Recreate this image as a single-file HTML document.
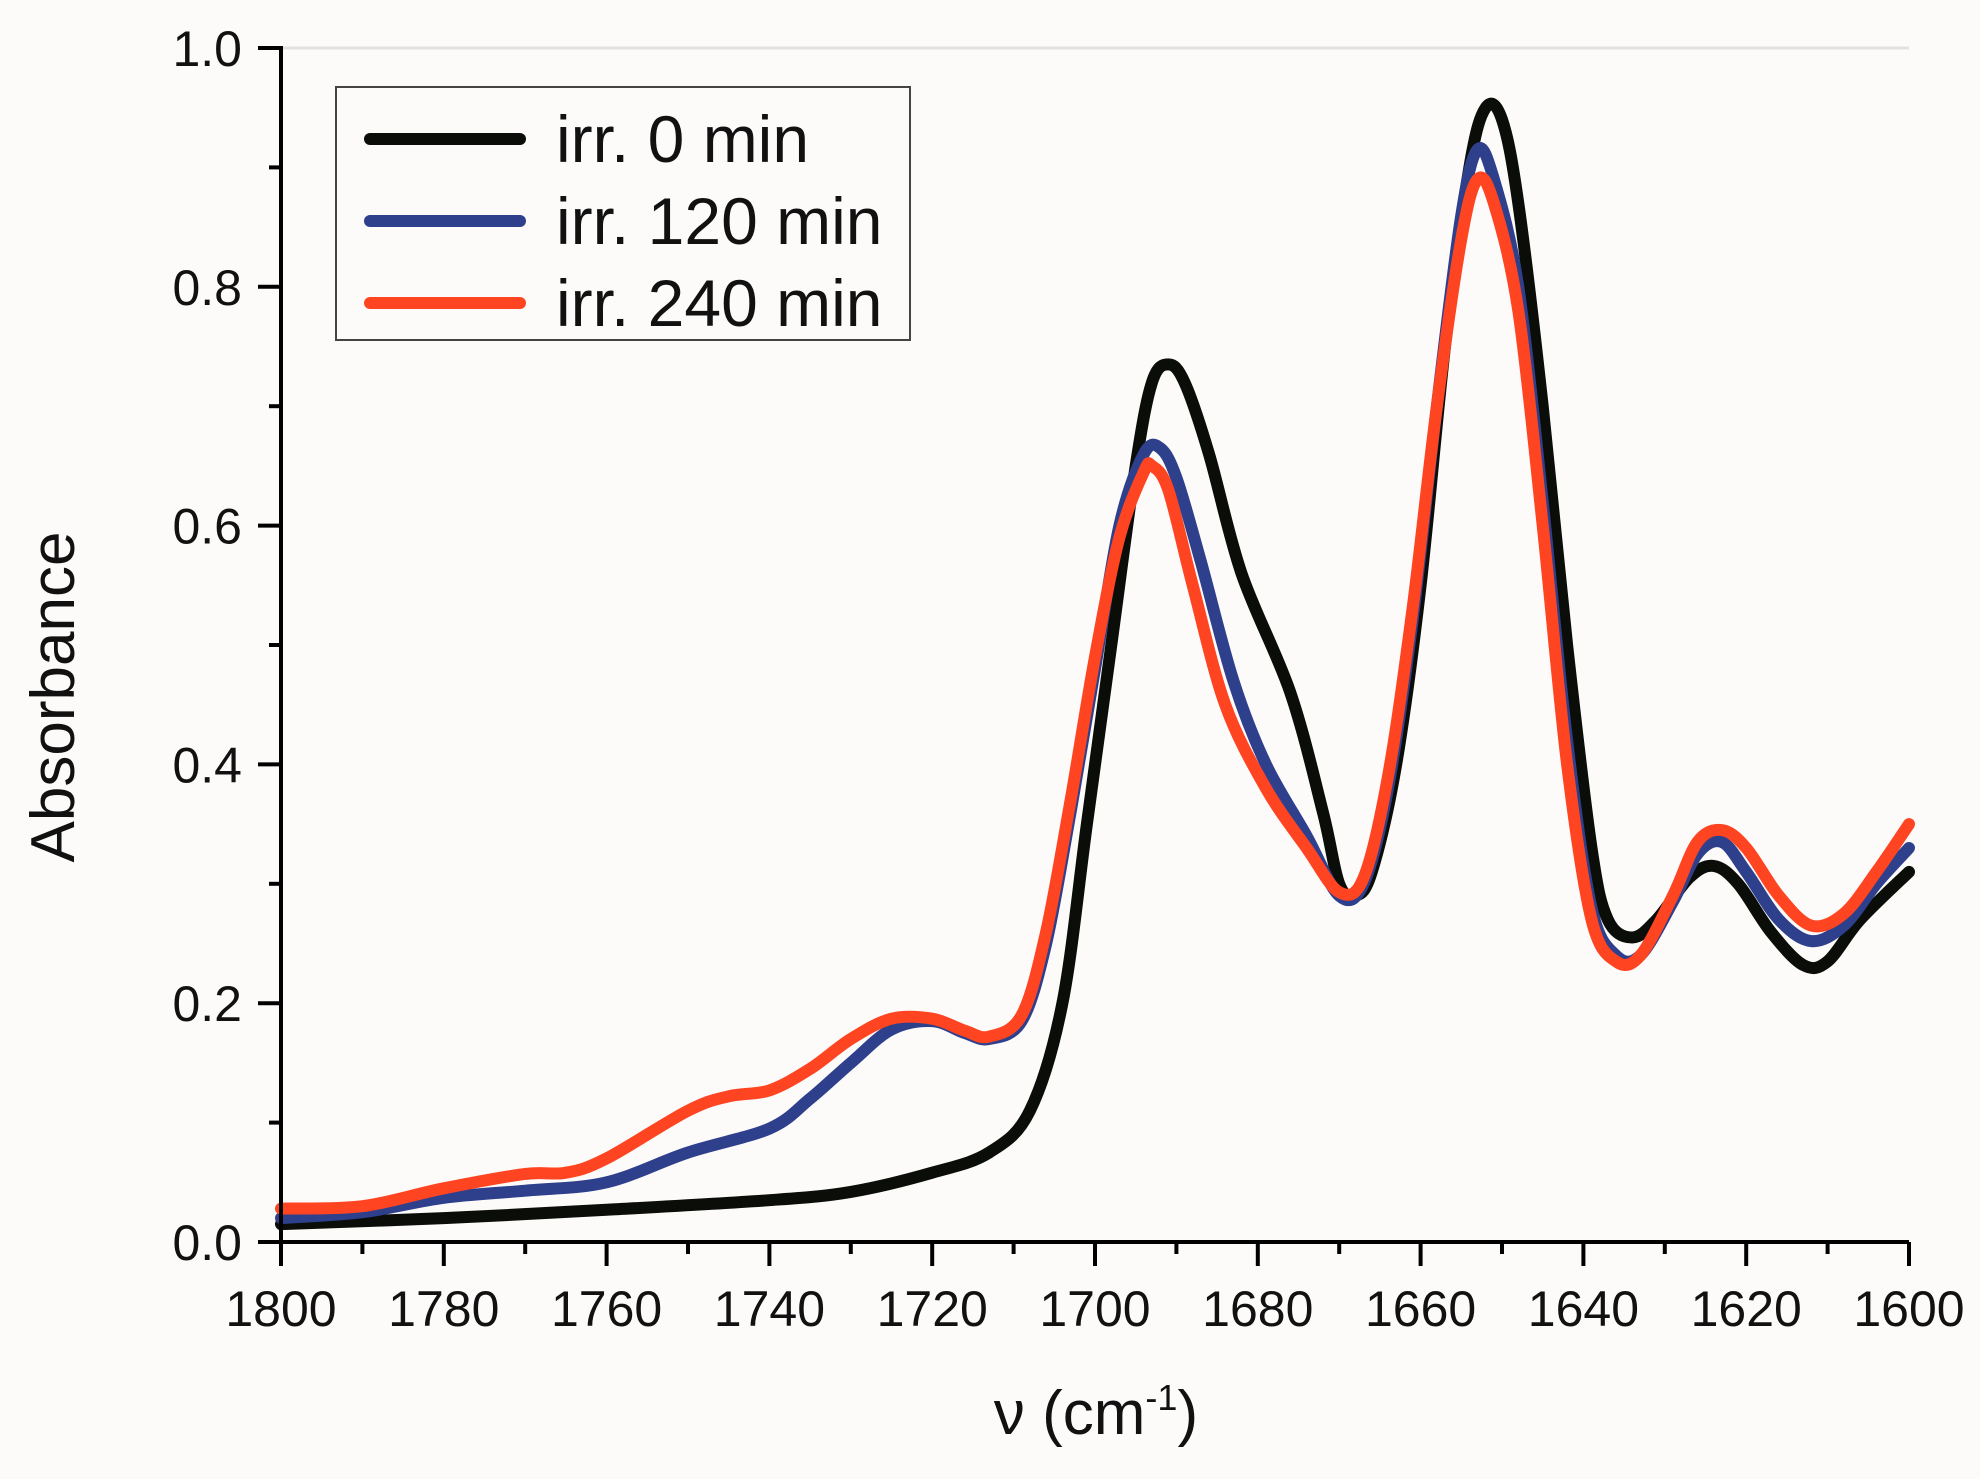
<!DOCTYPE html>
<html><head><meta charset="utf-8"><style>
html,body{margin:0;padding:0;background:#fdfbfa;}
svg{display:block;}
text{font-family:"Liberation Sans",sans-serif;fill:#111;}
</style></head><body>
<svg id="s" width="1980" height="1479" viewBox="0 0 1980 1479" xmlns="http://www.w3.org/2000/svg">
<rect width="1980" height="1479" fill="#fdfbfa"/>
<line x1="281" y1="48" x2="1909" y2="48" stroke="#e2e2e2" stroke-width="3"/>
<g id="ticks" stroke="#000" stroke-width="4"></g>
<g id="curves" fill="none" stroke-width="12" stroke-linejoin="round" stroke-linecap="round"></g>
<line x1="281" y1="46" x2="281" y2="1244" stroke="#000" stroke-width="4"/>
<line x1="279" y1="1242" x2="1909" y2="1242" stroke="#000" stroke-width="4"/>
<g id="lab" font-size="50"></g>
<text x="0" y="0" font-size="62" text-anchor="middle" transform="translate(74,697) rotate(-90)">Absorbance</text>
<text x="1096" y="1434" font-size="62" text-anchor="middle">ν (cm<tspan dy="-24" font-size="36">-1</tspan><tspan dy="24">)</tspan></text>
<rect x="336" y="87" width="574" height="253" fill="#fdfbfa" stroke="#444" stroke-width="2"/>
<line x1="370" y1="139" x2="520" y2="139" stroke="#0a0d08" stroke-width="12" stroke-linecap="round"/>
<line x1="370" y1="221" x2="520" y2="221" stroke="#2e3f8c" stroke-width="12" stroke-linecap="round"/>
<line x1="370" y1="303" x2="520" y2="303" stroke="#ff4422" stroke-width="12" stroke-linecap="round"/>
<text x="556" y="162" font-size="66">irr. 0 min</text>
<text x="556" y="244" font-size="66">irr. 120 min</text>
<text x="556" y="326" font-size="66">irr. 240 min</text>
</svg>
<script>
var NS="http://www.w3.org/2000/svg";
function X(w){return 281+(1800-w)/200*1628;}
function Y(a){return 1242-a*1194;}
function el(p,n,at,t){var e=document.createElementNS(NS,n);for(var k in at)e.setAttribute(k,at[k]);if(t)e.textContent=t;document.getElementById(p).appendChild(e);}
for(var w=1800;w>=1600;w-=10){var maj=(w%20==0);el("ticks","line",{x1:X(w),y1:1242,x2:X(w),y2:maj?1266:1254});
 if(maj)el("lab","text",{x:X(w),y:1326,"text-anchor":"middle"},String(w));}
for(var i=0;i<=10;i++){var a=i/10,maj=(i%2==0);el("ticks","line",{x1:maj?258:269,y1:Y(a),x2:281,y2:Y(a)});
 if(maj)el("lab","text",{x:242,y:Y(a)+18,"text-anchor":"end"},a.toFixed(1));}
var black=[[1800,0.015],[1780,0.02],[1760,0.027],[1740,0.035],[1730,0.042],[1720,0.058],[1713,0.075],[1708,0.11],[1704,0.2],[1701,0.35],[1698,0.5],[1695,0.65],[1693,0.72],[1691,0.735],[1689,0.72],[1686,0.66],[1682,0.56],[1676,0.46],[1672,0.36],[1670,0.30],[1668,0.29],[1666,0.31],[1663,0.4],[1660,0.55],[1657,0.75],[1654,0.9],[1652,0.95],[1650,0.94],[1648,0.87],[1645,0.7],[1642,0.5],[1639,0.33],[1637,0.27],[1634,0.255],[1631,0.27],[1627,0.305],[1624,0.315],[1621,0.3],[1617,0.26],[1613,0.232],[1610,0.235],[1606,0.27],[1600,0.31]];
var blue=[[1800,0.02],[1790,0.025],[1780,0.037],[1770,0.043],[1760,0.05],[1750,0.075],[1740,0.095],[1735,0.12],[1730,0.15],[1725,0.178],[1720,0.185],[1716,0.175],[1713,0.17],[1709,0.185],[1706,0.25],[1703,0.36],[1700,0.48],[1697,0.6],[1694,0.66],[1692,0.665],[1690,0.64],[1687,0.57],[1683,0.47],[1679,0.4],[1674,0.34],[1670,0.29],[1667,0.3],[1664,0.38],[1661,0.52],[1658,0.7],[1655,0.86],[1653,0.915],[1651,0.89],[1648,0.8],[1645,0.62],[1642,0.42],[1639,0.28],[1636,0.24],[1633,0.24],[1629,0.285],[1626,0.325],[1623,0.335],[1620,0.31],[1616,0.27],[1612,0.252],[1608,0.265],[1604,0.3],[1600,0.33]];
var red=[[1800,0.028],[1790,0.03],[1780,0.045],[1770,0.057],[1765,0.058],[1760,0.07],[1750,0.11],[1745,0.122],[1740,0.127],[1735,0.145],[1730,0.17],[1725,0.187],[1720,0.187],[1716,0.177],[1713,0.172],[1709,0.19],[1706,0.26],[1703,0.37],[1700,0.49],[1697,0.59],[1694,0.645],[1693,0.65],[1691,0.63],[1688,0.55],[1684,0.45],[1679,0.38],[1674,0.33],[1670,0.293],[1667,0.305],[1664,0.39],[1661,0.53],[1658,0.7],[1655,0.84],[1653,0.89],[1651,0.87],[1648,0.78],[1645,0.6],[1642,0.4],[1639,0.27],[1636,0.235],[1633,0.24],[1629,0.29],[1626,0.335],[1623,0.345],[1620,0.33],[1616,0.29],[1612,0.265],[1608,0.275],[1604,0.31],[1600,0.35]];
function path(d){var p=d.map(function(q){return [X(q[0]),Y(q[1])];});var s="M"+p[0][0].toFixed(1)+","+p[0][1].toFixed(1);
 for(var i=0;i<p.length-1;i++){var p0=p[Math.max(0,i-1)],p1=p[i],p2=p[i+1],p3=p[Math.min(p.length-1,i+2)];
  var c1=[p1[0]+(p2[0]-p0[0])/6,p1[1]+(p2[1]-p0[1])/6],c2=[p2[0]-(p3[0]-p1[0])/6,p2[1]-(p3[1]-p1[1])/6];
  s+=" C"+c1[0].toFixed(1)+","+c1[1].toFixed(1)+" "+c2[0].toFixed(1)+","+c2[1].toFixed(1)+" "+p2[0].toFixed(1)+","+p2[1].toFixed(1);}
 return s;}
el("curves","path",{d:path(black),stroke:"#0a0d08"});
el("curves","path",{d:path(blue),stroke:"#2e3f8c"});
el("curves","path",{d:path(red),stroke:"#ff4422"});
</script>
</body></html>
